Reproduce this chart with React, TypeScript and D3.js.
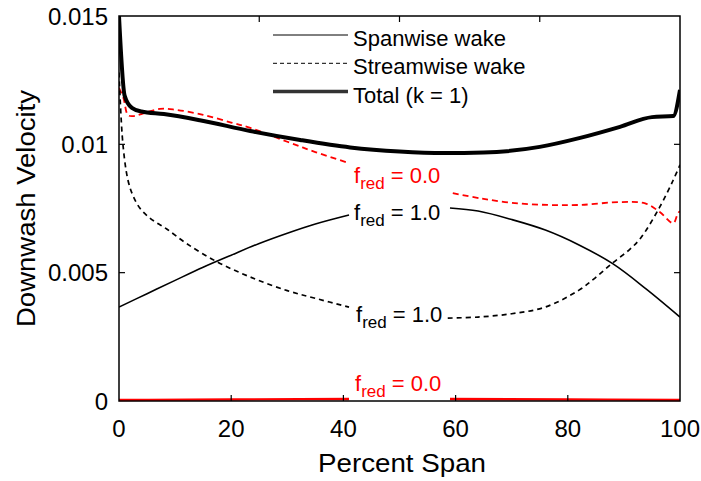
import React from "react";
import * as d3 from "d3";

type Pt = [number, number | null];

const totalX = [0, 1, 2.3, 4, 8, 14.4, 23.4, 32.3, 41.2, 50, 58, 65, 75, 82.2, 89.3, 95, 98.8, 100];
const totalV = [0.015, 0.0119, 0.01142, 0.01128, 0.01118, 0.01094, 0.01052, 0.01017, 0.00988, 0.00972, 0.00966, 0.00968, 0.0099, 0.01025, 0.01068, 0.01106, 0.0111, 0.01212];

const spanX = [0, 5, 10, 15, 20, 25, 30, 35, 41, 50, 59, 64, 70, 76, 82, 88, 94, 100];
const spanwise1 = [0.00366, 0.00418, 0.0047, 0.00521, 0.00568, 0.00614, 0.00654, 0.0069, 0.00725, null, 0.00752, 0.0074, 0.00707, 0.00666, 0.00608, 0.00535, 0.00436, 0.00327];

const stream1X = [0, 0.7, 1.6, 2.5, 3.7, 5, 6.5, 8.5, 12, 17.5, 23.4, 30, 35, 41, 50, 58.6, 64, 70, 76, 82, 85, 88, 91, 93, 96.4, 98.8, 100];
const streamwise1 = [0.0128, 0.01, 0.0086, 0.008, 0.00752, 0.00722, 0.00697, 0.0067, 0.00614, 0.00542, 0.00483, 0.0043, 0.004, 0.00366, null, 0.00323, 0.00327, 0.0034, 0.00366, 0.00432, 0.00482, 0.00538, 0.0059, 0.00635, 0.00756, 0.00861, 0.0092];

const stream0X = [0, 0.8, 1.6, 2.5, 4, 7.3, 10, 15, 20, 23.4, 30, 35, 41, 50, 59.5, 64.3, 70, 76.3, 82.2, 89.3, 93.8, 96.4, 98.8, 99.6, 100];
const streamwise0 = [0.0122, 0.0118, 0.01114, 0.0111, 0.01118, 0.01138, 0.01135, 0.01115, 0.01085, 0.01064, 0.0101, 0.0097, 0.00927, null, 0.0081, 0.0079, 0.00772, 0.00764, 0.00764, 0.00775, 0.0077, 0.00736, 0.00693, 0.0073, 0.0074];

const span0X = [0, 20, 41, 50, 59, 80, 100];
const spanwise0 = [0.00004, 0.00006, 0.00008, null, 0.00008, 0.00006, 0.00004];

const xTicks = [0, 20, 40, 60, 80, 100];
const xTopTicks = [25, 50, 75];
const yTicks = [0, 0.005, 0.01, 0.015];
const yTickLabels = ["0", "0.005", "0.01", "0.015"];

const legendItems = ["Spanwise wake", "Streamwise wake", "Total (k = 1)"];

const W = 701;
const H = 481;
const left = 119;
const right = 680;
const top = 16;
const bottom = 401;

const FONT = "Liberation Sans, Arial, sans-serif";

function zip(xs: number[], vs: (number | null)[]): Pt[] {
  return xs.map((x, i) => [x, vs[i]]);
}

export default function App() {
  const x = d3.scaleLinear().domain([0, 100]).range([left, right]);
  const y = d3.scaleLinear().domain([0, 0.015]).range([bottom, top]);
  const mk = (curve: d3.CurveFactory) =>
    d3
      .line<Pt>()
      .defined((d) => d[1] !== null)
      .x((d) => x(d[0]))
      .y((d) => y(d[1] as number))
      .curve(curve);
  const line = mk(d3.curveMonotoneX);
  const smooth = mk(d3.curveCatmullRom.alpha(0.5));

  const tickLen = 6;

  const label = (tx: number, ty: number, val: string, color: string) => (
    <text x={tx} y={ty} fontFamily={FONT} fontSize={22} fill={color}>
      f
      <tspan fontSize={17} dy={6}>red</tspan>
      <tspan dy={-6}>{" = " + val}</tspan>
    </text>
  );

  return (
    <svg width={W} height={H} style={{ position: "absolute", left: 0, top: 0 }}>
      <rect x={0} y={0} width={W} height={H} fill="white" />
      <defs>
        <clipPath id="plotclip">
          <rect x={left} y={top - 2} width={right - left} height={bottom - top + 4} />
        </clipPath>
      </defs>
      <g clipPath="url(#plotclip)">
        <path d={line(zip(span0X, spanwise0)) || ""} fill="none" stroke="#ff0000" strokeWidth={2.4} />
        <path d={smooth(zip(stream0X, streamwise0)) || ""} fill="none" stroke="#ff0000" strokeWidth={1.8} strokeDasharray="6,4" />
        <path d={smooth(zip(stream1X, streamwise1)) || ""} fill="none" stroke="#000" strokeWidth={1.7} strokeDasharray="5,4" />
        <path d={smooth(zip(spanX, spanwise1)) || ""} fill="none" stroke="#000" strokeWidth={1.6} />
        <path d={line(zip(totalX, totalV)) || ""} fill="none" stroke="#000" strokeWidth={4} strokeLinejoin="round" />
      </g>

      {/* axes box */}
      <rect x={left} y={top} width={right - left} height={bottom - top} fill="none" stroke="#000" strokeWidth={1.5} />
      {xTicks.slice(1, -1).map((t) => (
        <line key={"xb" + t} x1={x(t)} x2={x(t)} y1={bottom} y2={bottom - tickLen} stroke="#000" strokeWidth={1.2} />
      ))}
      {xTopTicks.map((t) => (
        <line key={"xt" + t} x1={x(t)} x2={x(t)} y1={top} y2={top + tickLen} stroke="#000" strokeWidth={1.2} />
      ))}
      {yTicks.slice(1, -1).map((t) => (
        <g key={"y" + t}>
          <line x1={left} x2={left + tickLen} y1={y(t)} y2={y(t)} stroke="#000" strokeWidth={1.2} />
          <line x1={right} x2={right - tickLen} y1={y(t)} y2={y(t)} stroke="#000" strokeWidth={1.2} />
        </g>
      ))}
      {xTicks.map((t) => (
        <text key={"xl" + t} x={x(t)} y={437} textAnchor="middle" fontFamily={FONT} fontSize={24} fill="#000">
          {t}
        </text>
      ))}
      {yTicks.map((t, i) => (
        <text key={"yl" + t} x={108} y={y(t) + 8.7} textAnchor="end" fontFamily={FONT} fontSize={24} fill="#000">
          {yTickLabels[i]}
        </text>
      ))}
      <text x={402} y={472} textAnchor="middle" fontFamily={FONT} fontSize={25} textLength={168} lengthAdjust="spacingAndGlyphs" fill="#000">
        Percent Span
      </text>
      <text
        transform={`translate(35, 208.5) rotate(-90)`}
        textAnchor="middle"
        fontFamily={FONT}
        fontSize={25.5}
        textLength={237}
        lengthAdjust="spacingAndGlyphs"
        fill="#000"
      >
        Downwash Velocity
      </text>

      {/* legend */}
      {legendItems.map((name, i) => {
        const ly = 35 + i * 28.3;
        return (
          <g key={name}>
            <line
              x1={273}
              x2={348}
              y1={ly}
              y2={ly}
              stroke={i === 2 ? "#333" : "#000"}
              strokeWidth={i === 2 ? 3.5 : 1}
              strokeDasharray={i === 1 ? "4,3" : undefined}
            />
            <text x={353} y={ly + 11} fontFamily={FONT} fontSize={22} fill="#000">
              {name}
            </text>
          </g>
        );
      })}

      {/* curve labels */}
      {label(354, 183, "0.0", "#ff0000")}
      {label(354, 220, "1.0", "#000")}
      {label(356, 322, "1.0", "#000")}
      {label(355, 391, "0.0", "#ff0000")}
    </svg>
  );
}
